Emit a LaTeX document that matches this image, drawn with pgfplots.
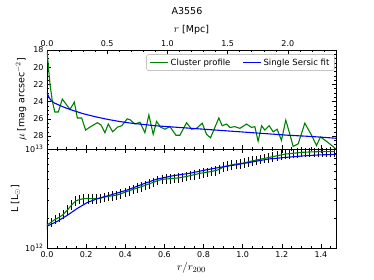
\documentclass[border=0pt]{standalone}
\usepackage{pgfplots}
\pgfplotsset{compat=1.18}
\usepackage{pgfplotstable}
\usepackage{fontspec}
\setmainfont{DejaVu Sans}
\definecolor{mplgreen}{RGB}{0,128,0}
\definecolor{mplblue}{RGB}{0,0,255}

\pgfplotstableread{
x L e
0.000 1.71e12 0.11
0.021 1.82e12 0.11
0.042 1.95e12 0.11
0.063 2.04e12 0.11
0.084 2.19e12 0.11
0.105 2.43e12 0.11
0.126 2.72e12 0.11
0.147 2.99e12 0.11
0.168 3.09e12 0.11
0.189 3.15e12 0.11
0.210 3.16e12 0.11
0.231 3.15e12 0.11
0.252 3.14e12 0.11
0.273 3.18e12 0.11
0.294 3.27e12 0.11
0.315 3.33e12 0.11
0.336 3.37e12 0.11
0.357 3.42e12 0.11
0.378 3.53e12 0.11
0.399 3.66e12 0.11
0.420 3.78e12 0.11
0.441 3.91e12 0.11
0.462 4.04e12 0.11
0.483 4.17e12 0.11
0.504 4.32e12 0.11
0.525 4.47e12 0.11
0.546 4.62e12 0.11
0.567 4.81e12 0.11
0.588 4.92e12 0.11
0.609 4.98e12 0.11
0.630 5.01e12 0.11
0.651 5.06e12 0.11
0.672 5.11e12 0.11
0.693 5.19e12 0.11
0.714 5.28e12 0.11
0.735 5.40e12 0.11
0.756 5.52e12 0.11
0.777 5.65e12 0.11
0.798 5.75e12 0.11
0.819 5.83e12 0.11
0.840 5.93e12 0.11
0.861 6.05e12 0.11
0.882 6.24e12 0.11
0.903 6.61e12 0.11
0.924 6.76e12 0.11
0.945 6.92e12 0.11
0.966 7.05e12 0.11
0.987 7.11e12 0.11
1.008 7.24e12 0.11
1.029 7.41e12 0.11
1.050 7.59e12 0.11
1.071 7.74e12 0.11
1.092 7.89e12 0.11
1.113 8.05e12 0.11
1.134 8.20e12 0.11
1.155 8.38e12 0.11
1.176 8.55e12 0.11
1.197 8.71e12 0.11
1.218 8.89e12 0.11
1.239 8.97e12 0.11
1.260 9.06e12 0.11
1.281 9.14e12 0.11
1.302 9.25e12 0.11
1.323 9.29e12 0.11
1.344 9.33e12 0.11
1.365 9.35e12 0.11
1.386 9.40e12 0.11
1.407 9.40e12 0.11
1.428 9.40e12 0.11
1.449 9.40e12 0.11
1.470 9.42e12 0.11
}\lumprofile

\pgfplotstableread{
x L
0.000 1.66e12
0.053 1.86e12
0.104 2.14e12
0.155 2.51e12
0.206 2.88e12
0.260 3.16e12
0.325 3.43e12
0.410 3.85e12
0.496 4.47e12
0.560 4.95e12
0.645 5.37e12
0.731 5.69e12
0.816 6.17e12
0.900 6.61e12
0.966 6.92e12
1.050 7.41e12
1.136 7.94e12
1.220 8.22e12
1.307 8.51e12
1.390 8.71e12
1.477 8.83e12
}\lumfit

\pgfplotstableread{
x mu
0.000 18.1
0.025 22.0
0.045 24.0
0.065 25.2
0.094 25.2
0.127 23.7
0.191 24.9
0.227 24.05
0.252 25.9
0.288 25.9
0.321 27.3
0.357 26.95
0.418 26.45
0.448 26.7
0.481 27.6
0.509 26.6
0.545 27.5
0.587 26.95
0.620 26.8
0.666 26.0
0.689 26.1
0.730 26.6
0.772 26.4
0.813 27.6
0.846 25.55
0.882 27.8
0.910 26.3
0.943 26.95
0.979 27.2
1.021 26.9
1.071 27.9
1.104 27.9
1.159 26.45
1.201 27.2
1.242 27.1
1.289 26.5
1.325 27.8
1.358 28.2
1.427 25.9
1.455 26.8
1.492 26.6
1.519 27.0
1.560 26.9
1.602 27.1
1.657 26.6
1.699 27.0
1.726 26.9
1.753 28.6
1.782 26.8
1.809 27.3
1.845 26.8
1.878 27.5
1.911 27.2
1.947 28.5
1.983 26.15
2.017 27.8
2.044 29.2
2.086 28.9
2.141 26.5
2.197 27.9
2.238 29.1
2.271 28.1
2.321 28.6
2.400 29.5
}\muprofile

\pgfplotstableread{
x mu
0.000 22.9
0.010 23.3
0.020 23.6
0.040 23.95
0.060 24.15
0.100 24.4
0.150 24.7
0.200 24.95
0.300 25.4
0.400 25.75
0.500 26.05
0.600 26.3
0.700 26.5
0.800 26.65
0.900 26.8
1.000 26.9
1.200 27.1
1.400 27.3
1.600 27.5
1.800 27.7
2.000 27.9
2.200 28.05
2.400 28.25
}\mufit

\pgfplotsset{
  base/.style={
    width=289pt, height=99pt, scale only axis,
    tick align=inside,
    /pgf/number format/assume math mode=true,
    axis line style={line width=0.8pt},
    every tick/.style={black, line width=0.5pt},
    major tick length=4pt, minor tick length=2pt,
    tick label style={font=\fontsize{8}{9.5}\selectfont},
    label style={font=\fontsize{9.5}{11}\selectfont},
  }
}

\begin{document}
\begin{tikzpicture}[font=\fontsize{8}{9.5}\selectfont]
\useasboundingbox (-47pt,-32pt) rectangle (327pt,248pt);

% bottom panel
\begin{axis}[base, at={(0pt,0pt)}, anchor=south west,
  xmin=0, xmax=1.477,
  ymode=log, ymin=1e12, ymax=1e13,
  xtick={0,0.2,0.4,0.6,0.8,1.0,1.2,1.4},
  xticklabels={0.0,0.2,0.4,0.6,0.8,1.0,1.2,1.4},
  minor xtick={0.05,0.1,...,1.45},
  ytick={1e12,1e13},
  yticklabels={10\textsuperscript{12},10\textsuperscript{13}},
  minor ytick={2e12,3e12,4e12,5e12,6e12,7e12,8e12,9e12},
  xlabel={\fontsize{11}{12}\selectfont$r/r_{200}$},
  ylabel={L [L$_\odot$]},
  xlabel style={yshift=2pt},
  ylabel style={yshift=-2pt},
]
\addplot[draw=none, mark=none, forget plot,
  error bars/.cd, y dir=both, y explicit relative, error mark=none,
  error bar style={black, line width=1pt}]
  table[x=x, y=L, y error=e] {\lumprofile};
\addplot[mplgreen, line width=1.1pt, mark=none] table[x=x, y=L] {\lumprofile};
\addplot[mplblue, line width=1.1pt, mark=none] table[x=x, y=L] {\lumfit};
\end{axis}

% top panel: r/r200 ticks on lower edge
\begin{axis}[base, at={(0pt,99pt)}, anchor=south west,
  xmin=0, xmax=1.477, ymin=0, ymax=1,
  xtick pos=left, xticklabels={},
  xtick={0,0.2,0.4,0.6,0.8,1.0,1.2,1.4},
  minor xtick={0.05,0.1,...,1.45},
  ytick=\empty,
]
\end{axis}

% top panel: data with Mpc axis on top
\begin{axis}[base, at={(0pt,99pt)}, anchor=south west,
  xmin=0, xmax=2.40,
  ymin=18, ymax=29.5, y dir=reverse,
  xtick pos=right, xticklabel pos=right,
  xtick={0,0.5,1.0,1.5,2.0},
  xticklabels={0.0,0.5,1.0,1.5,2.0},
  minor xtick={0.1,0.2,...,2.3},
  ytick={18,20,22,24,26,28},
  minor ytick={18.5,19,...,29.5},
  xlabel={{\fontsize{11}{12}\selectfont$r$} [Mpc]},
  ylabel={{\fontsize{11}{12}\selectfont$\mu$} [mag arcsec$^{-2}$]},
  xlabel style={yshift=-1pt},
  legend columns=2,
  legend style={at={(0.995,0.955)}, anchor=north east,
    draw=black!35, rounded corners=2pt,
    font=\fontsize{8.5}{10}\selectfont,
    /tikz/every even column/.append style={column sep=10pt}},
  legend image code/.code={\draw[#1, line width=1.1pt] (0pt,0pt) -- (18pt,0pt);},
]
\addplot[mplgreen, line width=1.1pt, mark=none] table[x=x, y=mu] {\muprofile};
\addlegendentry{Cluster profile}
\addplot[mplblue, line width=1.1pt, mark=none] table[x=x, y=mu] {\mufit};
\addlegendentry{Single Sersic fit}
\end{axis}

\node[font=\fontsize{9.5}{11}\selectfont] at (140pt,237pt) {A3556};
\end{tikzpicture}
\end{document}
